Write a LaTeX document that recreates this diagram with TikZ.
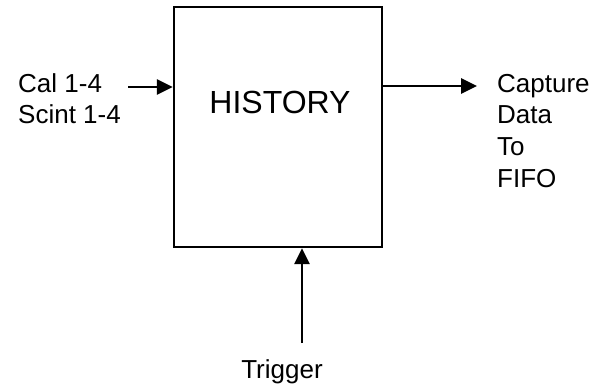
\documentclass[tikz,border=0pt]{standalone}
\usepackage{fontspec}
\setmainfont{Liberation Sans}
\usetikzlibrary{arrows.meta}
\begin{document}
\begin{tikzpicture}[x=1pt,y=-1pt,
  blockbox/.style={draw,line width=2.2pt,minimum width=208pt,minimum height=240pt,inner sep=0pt},
  sig/.style={line width=2.8pt,-{Triangle[length=16pt,width=15pt]}},
  lbl/.style={font=\fontsize{26}{30}\selectfont,inner sep=0pt},
  title/.style={font=\fontsize{32}{38}\selectfont,inner sep=0pt}]
  \useasboundingbox (0,0) rectangle (600,389);
  % main block
  \node[blockbox] (hist) at (278,127) {};
  \node[title,anchor=base] (histlbl) at (280,113) {HISTORY};
  % input labels
  \node[lbl,anchor=base west] (cal) at (18,92) {Cal 1-4};
  \node[lbl,anchor=base west] (scint) at (18,123) {Scint 1-4};
  % output labels
  \node[lbl,anchor=base west] (cap) at (497,92) {Capture};
  \node[lbl,anchor=base west] (data) at (497,123) {Data};
  \node[lbl,anchor=base west] (to) at (497,155) {To};
  \node[lbl,anchor=base west] (fifo) at (497,187) {FIFO};
  % trigger label
  \node[lbl,anchor=base] (trig) at (282,378) {Trigger};
  % connector end points
  \coordinate (inA) at (128,87);
  \coordinate (outB) at (477,86);
  \coordinate (trigA) at (302,343);
  % connectors
  \draw[sig] (inA) -- (inA -| hist.west);
  \draw[sig] (outB -| hist.east) -- (outB);
  \draw[sig] (trigA) -- (trigA |- hist.south);
\end{tikzpicture}
\end{document}
